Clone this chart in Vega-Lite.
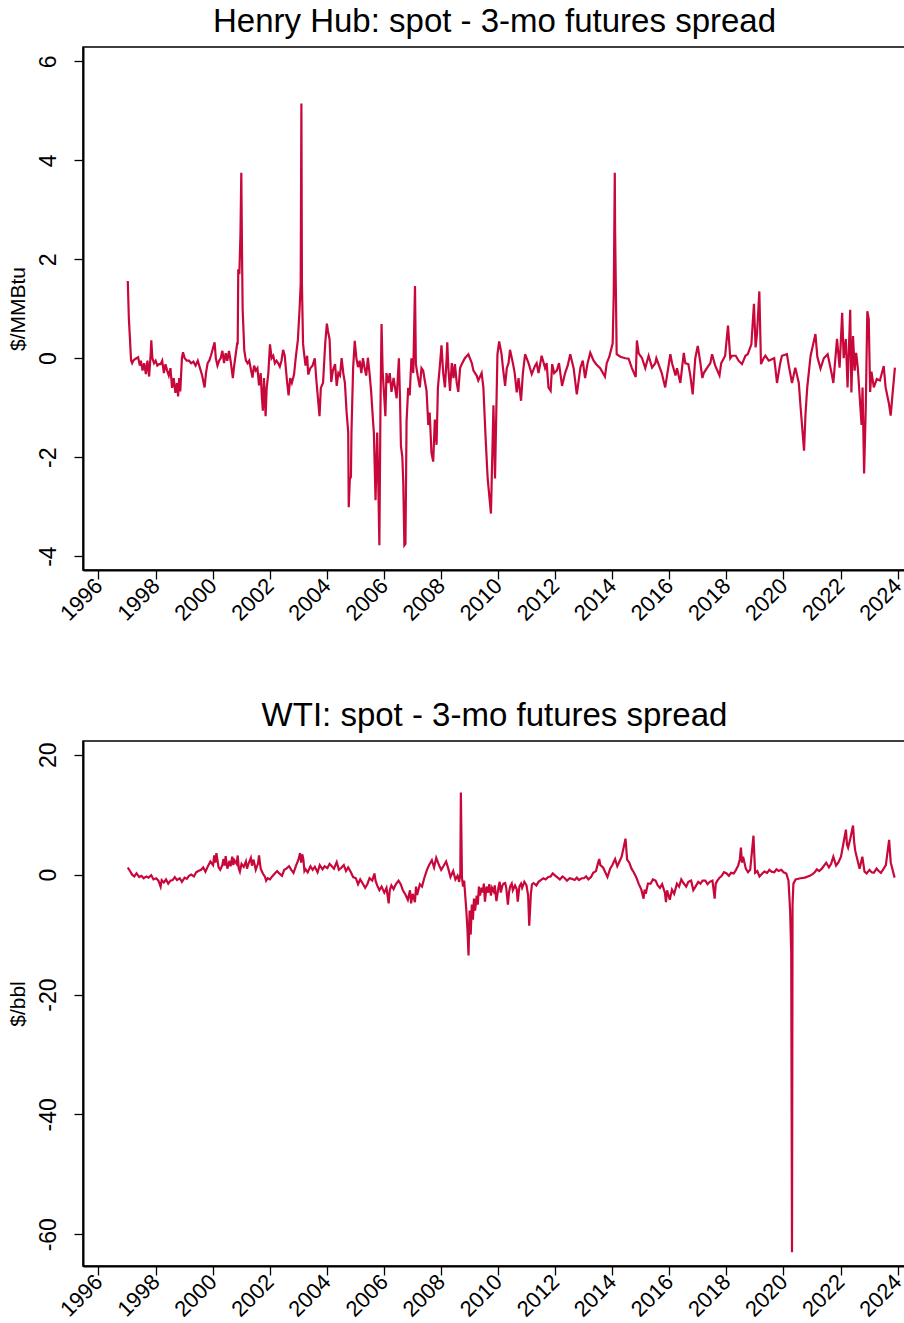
{
  "$schema": "https://vega.github.io/schema/vega-lite/v6.json",
  "padding": {"left": 6, "top": 5, "right": 0, "bottom": 0},
  "bounds": "flush",
  "spacing": 171,
  "config": {
    "font": "Liberation Sans",
    "view": {"stroke": "#000", "strokeWidth": 1.5},
    "axis": {"domainColor": "#000", "domainWidth": 2, "tickColor": "#000", "tickWidth": 1.3, "tickSize": 9, "grid": false, "labelFont": "Liberation Sans", "labelFontSize": 22, "labelColor": "#000", "titleFont": "Liberation Sans", "titleFontSize": 21, "titleFontWeight": "normal", "titleColor": "#000"},
    "title": {"fontSize": 33, "fontWeight": "normal", "color": "#000", "font": "Liberation Sans", "anchor": "middle", "baseline": "alphabetic", "offset": 8}
  },
  "datasets": {
    "hh": [
      {"date": "1997-01-10", "spread": 1.56}, {"date": "1997-01-24", "spread": 0.8}, {"date": "1997-02-07", "spread": 0.39}, {"date": "1997-02-21", "spread": -0.04}, {"date": "1997-03-07", "spread": -0.1}, {"date": "1997-03-21", "spread": -0.05}, {"date": "1997-04-11", "spread": -0.02}, {"date": "1997-05-02", "spread": 0.0}, {"date": "1997-05-23", "spread": 0.02}, {"date": "1997-06-13", "spread": -0.15}, {"date": "1997-06-27", "spread": -0.05}, {"date": "1997-07-18", "spread": -0.25}, {"date": "1997-08-08", "spread": -0.1}, {"date": "1997-08-29", "spread": -0.32}, {"date": "1997-09-19", "spread": -0.05}, {"date": "1997-10-10", "spread": -0.37}, {"date": "1997-10-31", "spread": 0.1}, {"date": "1997-11-07", "spread": 0.36}, {"date": "1997-11-21", "spread": 0.0}, {"date": "1997-12-12", "spread": -0.1},
      {"date": "1998-01-02", "spread": -0.05}, {"date": "1998-01-23", "spread": -0.15}, {"date": "1998-02-13", "spread": -0.12}, {"date": "1998-03-06", "spread": -0.12}, {"date": "1998-03-27", "spread": -0.05}, {"date": "1998-04-17", "spread": -0.3}, {"date": "1998-05-08", "spread": -0.12}, {"date": "1998-05-29", "spread": -0.25}, {"date": "1998-06-19", "spread": -0.35}, {"date": "1998-07-10", "spread": -0.2}, {"date": "1998-07-31", "spread": -0.6}, {"date": "1998-08-21", "spread": -0.4}, {"date": "1998-09-11", "spread": -0.7}, {"date": "1998-10-02", "spread": -0.5}, {"date": "1998-10-16", "spread": -0.77}, {"date": "1998-10-30", "spread": -0.4}, {"date": "1998-11-13", "spread": -0.67}, {"date": "1998-12-04", "spread": 0.0}, {"date": "1998-12-18", "spread": 0.12},
      {"date": "1999-01-08", "spread": 0.0}, {"date": "1999-02-05", "spread": -0.05}, {"date": "1999-03-05", "spread": -0.05}, {"date": "1999-04-02", "spread": -0.1}, {"date": "1999-04-30", "spread": -0.07}, {"date": "1999-05-28", "spread": -0.15}, {"date": "1999-06-25", "spread": -0.05}, {"date": "1999-07-23", "spread": -0.2}, {"date": "1999-08-20", "spread": -0.35}, {"date": "1999-09-20", "spread": -0.59}, {"date": "1999-10-08", "spread": -0.3}, {"date": "1999-10-29", "spread": -0.1}, {"date": "1999-11-19", "spread": -0.05}, {"date": "1999-12-10", "spread": 0.05},
      {"date": "2000-01-26", "spread": 0.32}, {"date": "2000-02-11", "spread": 0.0}, {"date": "2000-03-03", "spread": -0.15}, {"date": "2000-03-24", "spread": -0.05}, {"date": "2000-04-14", "spread": 0.0}, {"date": "2000-05-05", "spread": 0.15}, {"date": "2000-05-26", "spread": -0.1}, {"date": "2000-06-16", "spread": 0.1}, {"date": "2000-07-07", "spread": -0.05}, {"date": "2000-07-28", "spread": 0.15}, {"date": "2000-08-18", "spread": -0.05}, {"date": "2000-09-16", "spread": -0.4}, {"date": "2000-09-29", "spread": -0.2}, {"date": "2000-10-20", "spread": 0.05}, {"date": "2000-11-10", "spread": 0.3}, {"date": "2000-11-17", "spread": 0.3}, {"date": "2000-11-24", "spread": 1.8}, {"date": "2000-12-08", "spread": 1.7}, {"date": "2000-12-22", "spread": 2.5}, {"date": "2001-01-02", "spread": 3.75}, {"date": "2001-01-12", "spread": 2.0}, {"date": "2001-01-19", "spread": 1.0}, {"date": "2001-02-09", "spread": 0.16},
      {"date": "2001-03-02", "spread": -0.05}, {"date": "2001-03-23", "spread": -0.1}, {"date": "2001-04-13", "spread": -0.05}, {"date": "2001-05-25", "spread": -0.39}, {"date": "2001-06-15", "spread": -0.15}, {"date": "2001-07-06", "spread": -0.25}, {"date": "2001-07-27", "spread": -0.2}, {"date": "2001-08-17", "spread": -0.55}, {"date": "2001-09-07", "spread": -0.3}, {"date": "2001-09-21", "spread": -0.76}, {"date": "2001-10-05", "spread": -1.06}, {"date": "2001-10-19", "spread": -0.4}, {"date": "2001-11-09", "spread": -1.17}, {"date": "2001-11-23", "spread": -0.6}, {"date": "2001-12-14", "spread": -0.3},
      {"date": "2002-01-04", "spread": 0.28}, {"date": "2002-01-25", "spread": 0.0}, {"date": "2002-02-15", "spread": 0.05}, {"date": "2002-03-08", "spread": -0.1}, {"date": "2002-03-29", "spread": -0.05}, {"date": "2002-04-19", "spread": -0.1}, {"date": "2002-05-10", "spread": -0.17}, {"date": "2002-05-31", "spread": -0.05}, {"date": "2002-06-21", "spread": 0.17}, {"date": "2002-07-12", "spread": 0.05}, {"date": "2002-07-26", "spread": -0.2}, {"date": "2002-08-09", "spread": -0.45}, {"date": "2002-08-30", "spread": -0.75}, {"date": "2002-09-20", "spread": -0.4}, {"date": "2002-10-11", "spread": -0.5}, {"date": "2002-11-08", "spread": -0.33}, {"date": "2002-11-29", "spread": 0.0}, {"date": "2002-12-27", "spread": 0.37},
      {"date": "2003-01-17", "spread": 0.97}, {"date": "2003-02-01", "spread": 1.5}, {"date": "2003-02-10", "spread": 5.15}, {"date": "2003-02-17", "spread": 1.5}, {"date": "2003-03-03", "spread": 0.3}, {"date": "2003-03-14", "spread": 0.13}, {"date": "2003-04-04", "spread": -0.15}, {"date": "2003-04-25", "spread": 0.05}, {"date": "2003-05-08", "spread": -0.33}, {"date": "2003-06-05", "spread": -0.2}, {"date": "2003-07-03", "spread": -0.15}, {"date": "2003-07-31", "spread": 0.0}, {"date": "2003-08-21", "spread": -0.45}, {"date": "2003-09-30", "spread": -1.17}, {"date": "2003-10-17", "spread": -0.6}, {"date": "2003-11-14", "spread": -0.5}, {"date": "2003-12-12", "spread": 0.3},
      {"date": "2004-01-02", "spread": 0.7}, {"date": "2004-01-16", "spread": 0.55}, {"date": "2004-02-06", "spread": 0.38}, {"date": "2004-02-27", "spread": -0.48}, {"date": "2004-03-19", "spread": -0.25}, {"date": "2004-04-16", "spread": -0.12}, {"date": "2004-05-07", "spread": -0.56}, {"date": "2004-05-28", "spread": -0.3}, {"date": "2004-06-18", "spread": -0.35}, {"date": "2004-07-09", "spread": 0.0}, {"date": "2004-07-30", "spread": -0.3}, {"date": "2004-08-20", "spread": -0.5}, {"date": "2004-09-10", "spread": -1.08}, {"date": "2004-10-01", "spread": -1.49}, {"date": "2004-10-08", "spread": -3.01}, {"date": "2004-10-22", "spread": -2.44}, {"date": "2004-11-05", "spread": -2.4}, {"date": "2004-11-12", "spread": -1.49}, {"date": "2004-12-03", "spread": -0.2}, {"date": "2004-12-24", "spread": 0.35},
      {"date": "2005-01-14", "spread": 0.0}, {"date": "2005-02-04", "spread": -0.18}, {"date": "2005-02-25", "spread": -0.05}, {"date": "2005-03-18", "spread": -0.3}, {"date": "2005-04-08", "spread": 0.0}, {"date": "2005-04-29", "spread": -0.2}, {"date": "2005-05-20", "spread": -0.35}, {"date": "2005-06-10", "spread": 0.01}, {"date": "2005-07-01", "spread": -0.3}, {"date": "2005-07-22", "spread": -0.68}, {"date": "2005-08-12", "spread": -1.2}, {"date": "2005-08-26", "spread": -1.52}, {"date": "2005-09-16", "spread": -2.87}, {"date": "2005-10-07", "spread": -1.5}, {"date": "2005-10-21", "spread": -2.5}, {"date": "2005-11-04", "spread": -3.78}, {"date": "2005-11-18", "spread": -1.0}, {"date": "2005-12-02", "spread": 0.69}, {"date": "2005-12-16", "spread": -0.27},
      {"date": "2006-01-06", "spread": -0.8}, {"date": "2006-01-20", "spread": -1.17}, {"date": "2006-02-03", "spread": -0.3}, {"date": "2006-02-24", "spread": -0.5}, {"date": "2006-03-17", "spread": -0.3}, {"date": "2006-04-08", "spread": -0.68}, {"date": "2006-05-05", "spread": -0.4}, {"date": "2006-06-13", "spread": -0.81}, {"date": "2006-07-12", "spread": 0.0}, {"date": "2006-07-26", "spread": -0.8}, {"date": "2006-08-07", "spread": -1.77}, {"date": "2006-08-25", "spread": -2.0}, {"date": "2006-09-06", "spread": -2.52}, {"date": "2006-09-20", "spread": -3.78}, {"date": "2006-10-04", "spread": -3.75}, {"date": "2006-10-18", "spread": -1.28}, {"date": "2006-11-08", "spread": -0.6}, {"date": "2006-11-27", "spread": -0.75}, {"date": "2006-12-19", "spread": 0.0},
      {"date": "2007-01-12", "spread": -0.3}, {"date": "2007-02-03", "spread": 1.46}, {"date": "2007-02-14", "spread": -0.12}, {"date": "2007-03-09", "spread": -0.35}, {"date": "2007-04-06", "spread": -0.59}, {"date": "2007-04-27", "spread": -0.2}, {"date": "2007-05-19", "spread": -0.25}, {"date": "2007-06-08", "spread": -0.45}, {"date": "2007-07-01", "spread": -0.66}, {"date": "2007-07-23", "spread": -1.35}, {"date": "2007-08-10", "spread": -1.1}, {"date": "2007-09-02", "spread": -1.92}, {"date": "2007-09-24", "spread": -2.09}, {"date": "2007-10-15", "spread": -1.24}, {"date": "2007-11-06", "spread": -1.75}, {"date": "2007-11-23", "spread": -0.6}, {"date": "2007-12-19", "spread": -0.14},
      {"date": "2008-01-08", "spread": 0.26}, {"date": "2008-01-30", "spread": -0.3}, {"date": "2008-02-21", "spread": -0.59}, {"date": "2008-03-14", "spread": 0.0}, {"date": "2008-03-22", "spread": 0.32}, {"date": "2008-04-05", "spread": -0.2}, {"date": "2008-04-26", "spread": -0.66}, {"date": "2008-05-19", "spread": -0.1}, {"date": "2008-06-10", "spread": -0.4}, {"date": "2008-06-28", "spread": -0.12}, {"date": "2008-07-21", "spread": -0.5}, {"date": "2008-08-10", "spread": -0.68}, {"date": "2008-09-02", "spread": -0.2}, {"date": "2008-09-23", "spread": -0.12}, {"date": "2008-11-02", "spread": 0.0}, {"date": "2008-12-17", "spread": 0.08},
      {"date": "2009-01-30", "spread": -0.1}, {"date": "2009-02-20", "spread": -0.25}, {"date": "2009-04-02", "spread": -0.35}, {"date": "2009-04-23", "spread": -0.45}, {"date": "2009-06-05", "spread": -0.3}, {"date": "2009-06-27", "spread": -0.59}, {"date": "2009-07-26", "spread": -1.62}, {"date": "2009-08-21", "spread": -2.43}, {"date": "2009-10-02", "spread": -3.14}, {"date": "2009-11-03", "spread": -0.95}, {"date": "2009-11-23", "spread": -2.43}, {"date": "2009-12-24", "spread": 0.08},
      {"date": "2010-01-15", "spread": 0.34}, {"date": "2010-02-15", "spread": 0.08}, {"date": "2010-03-05", "spread": -0.2}, {"date": "2010-04-01", "spread": -0.56}, {"date": "2010-04-23", "spread": -0.2}, {"date": "2010-05-15", "spread": -0.1}, {"date": "2010-06-03", "spread": 0.17}, {"date": "2010-07-10", "spread": -0.1}, {"date": "2010-08-02", "spread": -0.3}, {"date": "2010-08-28", "spread": -0.69}, {"date": "2010-09-20", "spread": -0.4}, {"date": "2010-10-22", "spread": -0.86}, {"date": "2010-11-15", "spread": -0.3}, {"date": "2010-12-13", "spread": 0.08},
      {"date": "2011-01-26", "spread": -0.1}, {"date": "2011-03-08", "spread": -0.32}, {"date": "2011-04-20", "spread": -0.15}, {"date": "2011-05-10", "spread": -0.1}, {"date": "2011-06-03", "spread": -0.3}, {"date": "2011-07-13", "spread": 0.05}, {"date": "2011-08-26", "spread": -0.2}, {"date": "2011-09-15", "spread": -0.1}, {"date": "2011-10-08", "spread": -0.59}, {"date": "2011-11-05", "spread": -0.66}, {"date": "2011-11-25", "spread": -0.12}, {"date": "2011-12-20", "spread": -0.3},
      {"date": "2012-01-23", "spread": -0.25}, {"date": "2012-02-20", "spread": -0.1}, {"date": "2012-03-30", "spread": -0.56}, {"date": "2012-05-08", "spread": -0.3}, {"date": "2012-06-10", "spread": -0.15}, {"date": "2012-07-13", "spread": 0.08}, {"date": "2012-08-25", "spread": -0.2}, {"date": "2012-10-05", "spread": -0.73}, {"date": "2012-11-20", "spread": -0.19}, {"date": "2012-12-20", "spread": -0.05},
      {"date": "2013-01-19", "spread": -0.4}, {"date": "2013-02-20", "spread": -0.1}, {"date": "2013-03-26", "spread": 0.11}, {"date": "2013-05-08", "spread": -0.05}, {"date": "2013-06-10", "spread": -0.12}, {"date": "2013-07-31", "spread": -0.2}, {"date": "2013-09-30", "spread": -0.37}, {"date": "2013-10-23", "spread": -0.1}, {"date": "2013-11-25", "spread": 0.03},
      {"date": "2014-01-07", "spread": 0.3}, {"date": "2014-01-21", "spread": 1.35}, {"date": "2014-02-03", "spread": 3.75}, {"date": "2014-02-07", "spread": 2.6}, {"date": "2014-02-27", "spread": 0.08}, {"date": "2014-04-15", "spread": 0.03}, {"date": "2014-06-18", "spread": 0.0}, {"date": "2014-07-30", "spread": -0.01}, {"date": "2014-09-10", "spread": -0.2}, {"date": "2014-10-29", "spread": -0.38}, {"date": "2014-11-13", "spread": 0.36}, {"date": "2014-12-06", "spread": 0.1},
      {"date": "2015-01-18", "spread": 0.0}, {"date": "2015-02-28", "spread": -0.2}, {"date": "2015-04-12", "spread": 0.05}, {"date": "2015-05-26", "spread": -0.19}, {"date": "2015-07-06", "spread": -0.1}, {"date": "2015-07-20", "spread": 0.0}, {"date": "2015-09-27", "spread": -0.3}, {"date": "2015-11-10", "spread": -0.59},
      {"date": "2016-01-15", "spread": 0.08}, {"date": "2016-02-06", "spread": -0.1}, {"date": "2016-03-21", "spread": -0.35}, {"date": "2016-04-09", "spread": -0.2}, {"date": "2016-05-22", "spread": -0.5}, {"date": "2016-07-05", "spread": 0.11}, {"date": "2016-07-24", "spread": -0.1}, {"date": "2016-09-01", "spread": -0.12}, {"date": "2016-09-27", "spread": -0.35}, {"date": "2016-10-27", "spread": -0.73}, {"date": "2016-11-29", "spread": 0.0}, {"date": "2016-12-31", "spread": 0.25},
      {"date": "2017-02-03", "spread": -0.1}, {"date": "2017-02-28", "spread": -0.4}, {"date": "2017-03-18", "spread": -0.3}, {"date": "2017-05-01", "spread": -0.19}, {"date": "2017-06-10", "spread": -0.1}, {"date": "2017-07-02", "spread": 0.08}, {"date": "2017-08-11", "spread": -0.15}, {"date": "2017-10-05", "spread": -0.35}, {"date": "2017-10-27", "spread": -0.1}, {"date": "2017-11-30", "spread": 0.0}, {"date": "2017-12-16", "spread": 0.05},
      {"date": "2018-01-22", "spread": 0.66}, {"date": "2018-02-20", "spread": 0.0}, {"date": "2018-03-14", "spread": 0.05}, {"date": "2018-05-01", "spread": 0.05}, {"date": "2018-06-06", "spread": -0.05}, {"date": "2018-07-20", "spread": -0.12}, {"date": "2018-09-02", "spread": 0.05}, {"date": "2018-10-01", "spread": 0.08}, {"date": "2018-11-17", "spread": 0.28}, {"date": "2018-12-20", "spread": 1.1},
      {"date": "2019-01-10", "spread": 0.22}, {"date": "2019-01-28", "spread": 0.49}, {"date": "2019-02-27", "spread": 1.35}, {"date": "2019-03-20", "spread": -0.12}, {"date": "2019-04-23", "spread": 0.0}, {"date": "2019-05-15", "spread": 0.05}, {"date": "2019-06-28", "spread": -0.05}, {"date": "2019-09-05", "spread": 0.0}, {"date": "2019-09-20", "spread": -0.2}, {"date": "2019-10-11", "spread": -0.5}, {"date": "2019-11-21", "spread": -0.1}, {"date": "2019-12-13", "spread": 0.05},
      {"date": "2020-02-15", "spread": 0.08}, {"date": "2020-03-10", "spread": -0.15}, {"date": "2020-04-20", "spread": -0.5}, {"date": "2020-06-01", "spread": -0.19}, {"date": "2020-07-16", "spread": -0.5}, {"date": "2020-08-08", "spread": -0.99}, {"date": "2020-09-21", "spread": -1.87}, {"date": "2020-10-10", "spread": -1.12}, {"date": "2020-11-01", "spread": -0.59}, {"date": "2020-12-14", "spread": 0.05},
      {"date": "2021-02-14", "spread": 0.49}, {"date": "2021-03-10", "spread": 0.03}, {"date": "2021-04-20", "spread": -0.21}, {"date": "2021-06-01", "spread": 0.0}, {"date": "2021-07-20", "spread": 0.08}, {"date": "2021-09-12", "spread": -0.33}, {"date": "2021-10-01", "spread": -0.5}, {"date": "2021-11-17", "spread": 0.39}, {"date": "2021-12-20", "spread": -0.19},
      {"date": "2022-01-22", "spread": 0.92}, {"date": "2022-02-10", "spread": 0.0}, {"date": "2022-03-10", "spread": 0.39}, {"date": "2022-04-01", "spread": -0.59}, {"date": "2022-05-05", "spread": 0.98}, {"date": "2022-05-20", "spread": -0.69}, {"date": "2022-06-10", "spread": 0.45}, {"date": "2022-07-01", "spread": -0.25}, {"date": "2022-07-20", "spread": 0.11}, {"date": "2022-08-10", "spread": -0.19}, {"date": "2022-09-27", "spread": -1.35}, {"date": "2022-10-10", "spread": -0.59}, {"date": "2022-10-30", "spread": -2.33}, {"date": "2022-11-20", "spread": -0.99}, {"date": "2022-12-10", "spread": 0.95}, {"date": "2022-12-28", "spread": 0.79},
      {"date": "2023-01-15", "spread": -0.68}, {"date": "2023-02-01", "spread": -0.27}, {"date": "2023-03-03", "spread": -0.59}, {"date": "2023-04-10", "spread": -0.42}, {"date": "2023-05-20", "spread": -0.45}, {"date": "2023-07-08", "spread": -0.16}, {"date": "2023-08-01", "spread": -0.59}, {"date": "2023-09-13", "spread": -0.92}, {"date": "2023-10-05", "spread": -1.16}, {"date": "2023-10-25", "spread": -0.79}, {"date": "2023-11-28", "spread": -0.19}
    ],
    "wti": [
      {"date": "1997-01-10", "spread": 1.2}, {"date": "1997-02-07", "spread": 0.6}, {"date": "1997-03-07", "spread": 0.0}, {"date": "1997-04-04", "spread": -0.3}, {"date": "1997-05-02", "spread": 0.2}, {"date": "1997-06-06", "spread": -0.4}, {"date": "1997-07-04", "spread": -0.2}, {"date": "1997-08-01", "spread": -0.6}, {"date": "1997-09-05", "spread": -0.3}, {"date": "1997-10-03", "spread": -0.5}, {"date": "1997-11-07", "spread": -0.1}, {"date": "1997-12-05", "spread": -0.8},
      {"date": "1998-01-09", "spread": -0.6}, {"date": "1998-02-06", "spread": -1.0}, {"date": "1998-03-06", "spread": -2.0}, {"date": "1998-03-20", "spread": -0.9}, {"date": "1998-04-17", "spread": -1.3}, {"date": "1998-05-15", "spread": -0.8}, {"date": "1998-06-12", "spread": -1.5}, {"date": "1998-07-10", "spread": -1.0}, {"date": "1998-08-07", "spread": -0.9}, {"date": "1998-09-04", "spread": -0.4}, {"date": "1998-10-02", "spread": -0.9}, {"date": "1998-11-06", "spread": -0.6}, {"date": "1998-12-04", "spread": -1.2},
      {"date": "1999-01-08", "spread": -0.5}, {"date": "1999-02-05", "spread": -0.7}, {"date": "1999-03-05", "spread": -0.2}, {"date": "1999-04-02", "spread": 0.0}, {"date": "1999-05-07", "spread": -0.3}, {"date": "1999-06-04", "spread": 0.4}, {"date": "1999-07-02", "spread": 0.6}, {"date": "1999-08-06", "spread": 0.8}, {"date": "1999-09-03", "spread": 1.2}, {"date": "1999-10-01", "spread": 0.5}, {"date": "1999-11-05", "spread": 1.5}, {"date": "1999-12-03", "spread": 2.2},
      {"date": "2000-01-07", "spread": 1.6}, {"date": "2000-01-21", "spread": 3.2}, {"date": "2000-02-04", "spread": 2.0}, {"date": "2000-02-18", "spread": 3.6}, {"date": "2000-03-03", "spread": 2.4}, {"date": "2000-03-17", "spread": 1.2}, {"date": "2000-04-07", "spread": 0.8}, {"date": "2000-05-05", "spread": 1.6}, {"date": "2000-05-19", "spread": 2.6}, {"date": "2000-06-02", "spread": 1.5}, {"date": "2000-06-16", "spread": 3.1}, {"date": "2000-07-07", "spread": 1.0}, {"date": "2000-08-04", "spread": 2.3}, {"date": "2000-08-18", "spread": 1.4}, {"date": "2000-09-08", "spread": 3.0}, {"date": "2000-09-22", "spread": 1.6}, {"date": "2000-10-06", "spread": 2.4}, {"date": "2000-11-03", "spread": 1.8}, {"date": "2000-11-17", "spread": 3.2}, {"date": "2000-12-01", "spread": 1.0}, {"date": "2000-12-15", "spread": 0.5},
      {"date": "2001-01-05", "spread": 1.8}, {"date": "2001-02-02", "spread": 1.3}, {"date": "2001-03-02", "spread": 2.2}, {"date": "2001-03-16", "spread": 1.0}, {"date": "2001-04-06", "spread": 1.9}, {"date": "2001-05-04", "spread": 2.8}, {"date": "2001-05-18", "spread": 1.5}, {"date": "2001-06-08", "spread": 2.5}, {"date": "2001-07-06", "spread": 0.8}, {"date": "2001-08-03", "spread": 1.8}, {"date": "2001-08-17", "spread": 3.2}, {"date": "2001-09-07", "spread": 1.0}, {"date": "2001-10-05", "spread": 0.2}, {"date": "2001-11-02", "spread": -0.4}, {"date": "2001-11-16", "spread": -1.0}, {"date": "2001-12-07", "spread": -0.6},
      {"date": "2002-01-04", "spread": -0.8}, {"date": "2002-02-01", "spread": -0.3}, {"date": "2002-03-01", "spread": 0.1}, {"date": "2002-04-05", "spread": 0.6}, {"date": "2002-05-03", "spread": 0.2}, {"date": "2002-06-07", "spread": -0.2}, {"date": "2002-07-05", "spread": 0.8}, {"date": "2002-08-02", "spread": 1.0}, {"date": "2002-09-06", "spread": 1.4}, {"date": "2002-10-04", "spread": 0.8}, {"date": "2002-11-01", "spread": 0.3}, {"date": "2002-12-06", "spread": 1.6},
      {"date": "2003-01-03", "spread": 2.5}, {"date": "2003-01-24", "spread": 3.6}, {"date": "2003-02-07", "spread": 2.0}, {"date": "2003-02-21", "spread": 3.4}, {"date": "2003-03-07", "spread": 2.6}, {"date": "2003-03-21", "spread": 0.6}, {"date": "2003-04-04", "spread": 0.9}, {"date": "2003-05-02", "spread": 0.4}, {"date": "2003-06-06", "spread": 1.4}, {"date": "2003-07-04", "spread": 0.8}, {"date": "2003-08-01", "spread": 1.3}, {"date": "2003-09-05", "spread": 0.4}, {"date": "2003-10-03", "spread": 1.6}, {"date": "2003-11-07", "spread": 0.9}, {"date": "2003-12-05", "spread": 1.4},
      {"date": "2004-01-09", "spread": 1.1}, {"date": "2004-02-06", "spread": 1.8}, {"date": "2004-03-05", "spread": 1.4}, {"date": "2004-04-02", "spread": 1.0}, {"date": "2004-05-07", "spread": 2.1}, {"date": "2004-06-04", "spread": 0.8}, {"date": "2004-07-02", "spread": 1.1}, {"date": "2004-08-06", "spread": 1.6}, {"date": "2004-09-03", "spread": 0.6}, {"date": "2004-10-01", "spread": 1.2}, {"date": "2004-11-05", "spread": 0.4}, {"date": "2004-12-03", "spread": -0.4},
      {"date": "2005-01-07", "spread": -0.6}, {"date": "2005-02-04", "spread": -1.6}, {"date": "2005-03-04", "spread": -0.8}, {"date": "2005-04-01", "spread": -1.4}, {"date": "2005-05-06", "spread": -2.2}, {"date": "2005-06-03", "spread": -1.6}, {"date": "2005-07-01", "spread": -0.6}, {"date": "2005-08-05", "spread": -1.0}, {"date": "2005-09-02", "spread": 0.2}, {"date": "2005-09-16", "spread": -1.0}, {"date": "2005-10-07", "spread": -1.8}, {"date": "2005-11-04", "spread": -2.6}, {"date": "2005-12-02", "spread": -2.0},
      {"date": "2006-01-06", "spread": -3.0}, {"date": "2006-02-03", "spread": -2.2}, {"date": "2006-03-03", "spread": -4.8}, {"date": "2006-03-17", "spread": -2.6}, {"date": "2006-04-07", "spread": -1.8}, {"date": "2006-05-05", "spread": -2.4}, {"date": "2006-06-02", "spread": -1.6}, {"date": "2006-07-07", "spread": -1.0}, {"date": "2006-08-04", "spread": -1.6}, {"date": "2006-09-01", "spread": -2.6}, {"date": "2006-10-06", "spread": -3.4}, {"date": "2006-11-03", "spread": -4.2}, {"date": "2006-12-01", "spread": -2.6}, {"date": "2006-12-15", "spread": -4.8},
      {"date": "2007-01-05", "spread": -3.2}, {"date": "2007-02-02", "spread": -4.6}, {"date": "2007-02-16", "spread": -2.0}, {"date": "2007-03-02", "spread": -3.4}, {"date": "2007-04-06", "spread": -1.6}, {"date": "2007-05-04", "spread": -2.0}, {"date": "2007-06-01", "spread": -0.6}, {"date": "2007-07-06", "spread": 0.8}, {"date": "2007-08-03", "spread": 1.6}, {"date": "2007-09-07", "spread": 2.4}, {"date": "2007-10-05", "spread": 1.2}, {"date": "2007-11-02", "spread": 2.8}, {"date": "2007-12-07", "spread": 1.6},
      {"date": "2008-01-04", "spread": 0.8}, {"date": "2008-02-01", "spread": 1.4}, {"date": "2008-03-07", "spread": 2.2}, {"date": "2008-04-04", "spread": 1.0}, {"date": "2008-05-02", "spread": -0.4}, {"date": "2008-06-06", "spread": 0.6}, {"date": "2008-07-04", "spread": -0.8}, {"date": "2008-08-01", "spread": -0.2}, {"date": "2008-08-22", "spread": -1.2}, {"date": "2008-09-05", "spread": 0.2}, {"date": "2008-09-12", "spread": 13.7}, {"date": "2008-09-26", "spread": -0.5}, {"date": "2008-10-10", "spread": -2.0}, {"date": "2008-10-24", "spread": -1.0}, {"date": "2008-11-07", "spread": -3.5}, {"date": "2008-11-21", "spread": -6.0}, {"date": "2008-12-05", "spread": -9.0}, {"date": "2008-12-19", "spread": -13.5},
      {"date": "2009-01-02", "spread": -6.0}, {"date": "2009-01-16", "spread": -10.0}, {"date": "2009-01-30", "spread": -5.0}, {"date": "2009-02-13", "spread": -7.5}, {"date": "2009-02-27", "spread": -4.0}, {"date": "2009-03-13", "spread": -6.0}, {"date": "2009-04-03", "spread": -3.5}, {"date": "2009-04-17", "spread": -5.0}, {"date": "2009-05-01", "spread": -2.0}, {"date": "2009-05-15", "spread": -3.5}, {"date": "2009-06-05", "spread": -2.2}, {"date": "2009-06-19", "spread": -3.0}, {"date": "2009-07-03", "spread": -1.5}, {"date": "2009-07-17", "spread": -4.5}, {"date": "2009-08-07", "spread": -2.0}, {"date": "2009-08-28", "spread": -3.0}, {"date": "2009-09-11", "spread": -1.6}, {"date": "2009-10-02", "spread": -3.5}, {"date": "2009-10-16", "spread": -2.2}, {"date": "2009-11-06", "spread": -2.8}, {"date": "2009-11-20", "spread": -1.8}, {"date": "2009-12-11", "spread": -4.4},
      {"date": "2010-01-08", "spread": -2.0}, {"date": "2010-01-22", "spread": -1.2}, {"date": "2010-02-05", "spread": -3.0}, {"date": "2010-02-26", "spread": -1.8}, {"date": "2010-03-12", "spread": -1.5}, {"date": "2010-04-02", "spread": -1.4}, {"date": "2010-04-16", "spread": -2.2}, {"date": "2010-05-07", "spread": -5.0}, {"date": "2010-05-21", "spread": -3.0}, {"date": "2010-06-04", "spread": -2.0}, {"date": "2010-06-25", "spread": -1.5}, {"date": "2010-07-09", "spread": -2.6}, {"date": "2010-08-06", "spread": -1.8}, {"date": "2010-08-27", "spread": -2.4}, {"date": "2010-09-10", "spread": -4.5}, {"date": "2010-10-01", "spread": -2.0}, {"date": "2010-10-22", "spread": -1.5}, {"date": "2010-11-05", "spread": -2.2}, {"date": "2010-12-03", "spread": -1.2}, {"date": "2010-12-31", "spread": -1.8},
      {"date": "2011-01-21", "spread": -3.5}, {"date": "2011-02-04", "spread": -8.5}, {"date": "2011-02-25", "spread": -3.2}, {"date": "2011-03-11", "spread": -1.6}, {"date": "2011-04-01", "spread": -1.4}, {"date": "2011-05-06", "spread": -1.8}, {"date": "2011-06-03", "spread": -1.2}, {"date": "2011-07-01", "spread": -0.9}, {"date": "2011-08-05", "spread": -0.6}, {"date": "2011-09-02", "spread": -0.8}, {"date": "2011-10-07", "spread": -0.4}, {"date": "2011-11-04", "spread": -0.3}, {"date": "2011-12-02", "spread": 0.2},
      {"date": "2012-01-06", "spread": -0.2}, {"date": "2012-02-03", "spread": -0.5}, {"date": "2012-03-02", "spread": -0.8}, {"date": "2012-04-06", "spread": -0.3}, {"date": "2012-05-04", "spread": -0.6}, {"date": "2012-06-01", "spread": -1.0}, {"date": "2012-07-06", "spread": -0.6}, {"date": "2012-08-03", "spread": -0.7}, {"date": "2012-09-07", "spread": -0.9}, {"date": "2012-10-05", "spread": -0.5}, {"date": "2012-11-02", "spread": -0.9}, {"date": "2012-12-07", "spread": -0.6},
      {"date": "2013-01-04", "spread": -0.6}, {"date": "2013-02-01", "spread": -0.3}, {"date": "2013-03-01", "spread": -0.8}, {"date": "2013-04-05", "spread": -0.4}, {"date": "2013-05-03", "spread": 0.3}, {"date": "2013-06-07", "spread": 0.6}, {"date": "2013-07-05", "spread": 2.0}, {"date": "2013-07-19", "spread": 2.6}, {"date": "2013-08-02", "spread": 1.6}, {"date": "2013-09-06", "spread": 1.2}, {"date": "2013-10-04", "spread": 0.4}, {"date": "2013-11-01", "spread": -0.4}, {"date": "2013-12-06", "spread": 1.0},
      {"date": "2014-01-03", "spread": 1.6}, {"date": "2014-02-07", "spread": 2.6}, {"date": "2014-03-07", "spread": 1.4}, {"date": "2014-04-04", "spread": 2.2}, {"date": "2014-05-02", "spread": 3.0}, {"date": "2014-06-20", "spread": 6.0}, {"date": "2014-07-11", "spread": 2.5}, {"date": "2014-08-08", "spread": 2.0}, {"date": "2014-09-05", "spread": 1.0}, {"date": "2014-10-03", "spread": 0.4}, {"date": "2014-11-07", "spread": -0.5}, {"date": "2014-12-05", "spread": -1.5},
      {"date": "2015-01-09", "spread": -2.5}, {"date": "2015-02-06", "spread": -4.0}, {"date": "2015-02-20", "spread": -2.5}, {"date": "2015-03-06", "spread": -3.2}, {"date": "2015-04-03", "spread": -1.5}, {"date": "2015-05-08", "spread": -1.5}, {"date": "2015-06-05", "spread": -0.8}, {"date": "2015-07-10", "spread": -1.0}, {"date": "2015-08-07", "spread": -1.8}, {"date": "2015-09-04", "spread": -2.2}, {"date": "2015-10-02", "spread": -1.6}, {"date": "2015-11-06", "spread": -3.0}, {"date": "2015-11-20", "spread": -4.6}, {"date": "2015-12-04", "spread": -2.6},
      {"date": "2016-01-08", "spread": -4.2}, {"date": "2016-02-05", "spread": -2.5}, {"date": "2016-03-04", "spread": -3.2}, {"date": "2016-04-08", "spread": -1.5}, {"date": "2016-05-06", "spread": -2.0}, {"date": "2016-06-03", "spread": -0.8}, {"date": "2016-07-01", "spread": -1.4}, {"date": "2016-08-05", "spread": -2.0}, {"date": "2016-09-02", "spread": -1.2}, {"date": "2016-10-07", "spread": -1.0}, {"date": "2016-11-04", "spread": -2.6}, {"date": "2016-12-02", "spread": -2.0},
      {"date": "2017-01-06", "spread": -1.2}, {"date": "2017-02-03", "spread": -1.5}, {"date": "2017-03-03", "spread": -1.0}, {"date": "2017-04-07", "spread": -1.0}, {"date": "2017-05-05", "spread": -1.6}, {"date": "2017-06-02", "spread": -1.2}, {"date": "2017-07-07", "spread": -1.0}, {"date": "2017-08-04", "spread": -4.0}, {"date": "2017-08-18", "spread": -1.5}, {"date": "2017-09-08", "spread": -1.0}, {"date": "2017-10-06", "spread": -0.5}, {"date": "2017-11-03", "spread": -0.2}, {"date": "2017-12-01", "spread": 0.4},
      {"date": "2018-01-05", "spread": 0.2}, {"date": "2018-02-02", "spread": -0.2}, {"date": "2018-03-02", "spread": 0.3}, {"date": "2018-04-06", "spread": 0.2}, {"date": "2018-05-04", "spread": 0.8}, {"date": "2018-06-01", "spread": 1.5}, {"date": "2018-06-22", "spread": 2.5}, {"date": "2018-07-06", "spread": 4.5}, {"date": "2018-07-20", "spread": 2.0}, {"date": "2018-08-03", "spread": 3.0}, {"date": "2018-09-07", "spread": 1.0}, {"date": "2018-10-05", "spread": 0.4}, {"date": "2018-11-02", "spread": 0.8}, {"date": "2018-12-14", "spread": 6.5},
      {"date": "2019-01-04", "spread": 0.3}, {"date": "2019-02-01", "spread": 0.6}, {"date": "2019-03-01", "spread": -0.3}, {"date": "2019-04-05", "spread": 0.2}, {"date": "2019-05-03", "spread": 0.5}, {"date": "2019-06-07", "spread": 0.3}, {"date": "2019-07-05", "spread": 0.8}, {"date": "2019-08-02", "spread": 0.5}, {"date": "2019-09-06", "spread": 0.4}, {"date": "2019-10-04", "spread": 0.9}, {"date": "2019-11-01", "spread": 0.6}, {"date": "2019-12-06", "spread": 0.8},
      {"date": "2020-01-03", "spread": 0.4}, {"date": "2020-02-07", "spread": 0.2}, {"date": "2020-03-06", "spread": -1.0}, {"date": "2020-03-27", "spread": -6.0}, {"date": "2020-04-10", "spread": -13.0}, {"date": "2020-04-20", "spread": -63.0}, {"date": "2020-04-27", "spread": -5.0}, {"date": "2020-05-08", "spread": -1.5}, {"date": "2020-06-05", "spread": -0.8}, {"date": "2020-08-07", "spread": -0.6}, {"date": "2020-10-02", "spread": -0.5}, {"date": "2020-12-04", "spread": -0.2},
      {"date": "2021-01-08", "spread": 0.1}, {"date": "2021-02-05", "spread": 0.4}, {"date": "2021-03-05", "spread": 0.9}, {"date": "2021-04-02", "spread": 0.6}, {"date": "2021-05-07", "spread": 1.0}, {"date": "2021-06-04", "spread": 1.5}, {"date": "2021-07-02", "spread": 2.0}, {"date": "2021-08-06", "spread": 1.2}, {"date": "2021-09-03", "spread": 1.8}, {"date": "2021-10-01", "spread": 3.0}, {"date": "2021-11-05", "spread": 1.5}, {"date": "2021-12-03", "spread": 2.0},
      {"date": "2022-01-07", "spread": 3.0}, {"date": "2022-02-04", "spread": 5.0}, {"date": "2022-03-11", "spread": 7.5}, {"date": "2022-03-25", "spread": 5.0}, {"date": "2022-04-08", "spread": 4.5}, {"date": "2022-05-06", "spread": 6.0}, {"date": "2022-06-10", "spread": 8.2}, {"date": "2022-06-24", "spread": 5.5}, {"date": "2022-07-08", "spread": 4.0}, {"date": "2022-08-05", "spread": 2.5}, {"date": "2022-09-02", "spread": 1.0}, {"date": "2022-10-07", "spread": 3.0}, {"date": "2022-11-04", "spread": 0.5}, {"date": "2022-12-02", "spread": 0.2},
      {"date": "2023-01-06", "spread": 0.8}, {"date": "2023-02-03", "spread": 0.4}, {"date": "2023-03-03", "spread": 0.3}, {"date": "2023-04-07", "spread": 1.0}, {"date": "2023-05-05", "spread": 0.6}, {"date": "2023-06-02", "spread": 0.3}, {"date": "2023-07-07", "spread": 1.0}, {"date": "2023-08-04", "spread": 1.6}, {"date": "2023-09-15", "spread": 5.8}, {"date": "2023-10-06", "spread": 2.0}, {"date": "2023-11-24", "spread": -0.5}
    ]
  },
  "vconcat": [
    {
      "title": {"text": "Henry Hub: spot - 3-mo futures spread"},
      "width": 823,
      "height": 523,
      "data": {"name": "hh"},
      "mark": {"type": "line", "color": "#c8083b", "strokeWidth": 2.2, "clip": true},
      "encoding": {
        "x": {"field": "date", "type": "temporal",
          "scale": {"domain": [{"year": 1995, "month": 6, "date": 17}, {"year": 2024, "month": 4, "date": 18}]},
          "axis": {"title": null, "format": "%Y", "labelAngle": -45, "labelAlign": "right", "labelBaseline": "middle", "labelPadding": 3,
            "values": [{"year": 1996}, {"year": 1998}, {"year": 2000}, {"year": 2002}, {"year": 2004}, {"year": 2006}, {"year": 2008}, {"year": 2010}, {"year": 2012}, {"year": 2014}, {"year": 2016}, {"year": 2018}, {"year": 2020}, {"year": 2022}, {"year": 2024}]}},
        "y": {"field": "spread", "type": "quantitative",
          "scale": {"domain": [-4.28, 6.29], "nice": false, "zero": false},
          "axis": {"title": "$/MMBtu", "values": [-4, -2, 0, 2, 4, 6], "labelExpr": "toString(datum.value)", "labelFontSize": 23, "labelAngle": -90, "labelAlign": "center", "labelBaseline": "bottom", "labelPadding": 14, "titlePadding": 9}}
      }
    },
    {
      "title": {"text": "WTI: spot - 3-mo futures spread"},
      "width": 823,
      "height": 525,
      "data": {"name": "wti"},
      "mark": {"type": "line", "color": "#c8083b", "strokeWidth": 2.2, "clip": true},
      "encoding": {
        "x": {"field": "date", "type": "temporal",
          "scale": {"domain": [{"year": 1995, "month": 6, "date": 17}, {"year": 2024, "month": 4, "date": 18}]},
          "axis": {"title": null, "format": "%Y", "labelAngle": -45, "labelAlign": "right", "labelBaseline": "middle", "labelPadding": 3,
            "values": [{"year": 1996}, {"year": 1998}, {"year": 2000}, {"year": 2002}, {"year": 2004}, {"year": 2006}, {"year": 2008}, {"year": 2010}, {"year": 2012}, {"year": 2014}, {"year": 2016}, {"year": 2018}, {"year": 2020}, {"year": 2022}, {"year": 2024}]}},
        "y": {"field": "spread", "type": "quantitative",
          "scale": {"domain": [-65.3, 22.3], "nice": false, "zero": false},
          "axis": {"title": "$/bbl", "values": [-60, -40, -20, 0, 20], "labelExpr": "toString(datum.value)", "labelFontSize": 23, "labelAngle": -90, "labelAlign": "center", "labelBaseline": "bottom", "labelPadding": 14, "titlePadding": 9}}
      }
    }
  ]
}
